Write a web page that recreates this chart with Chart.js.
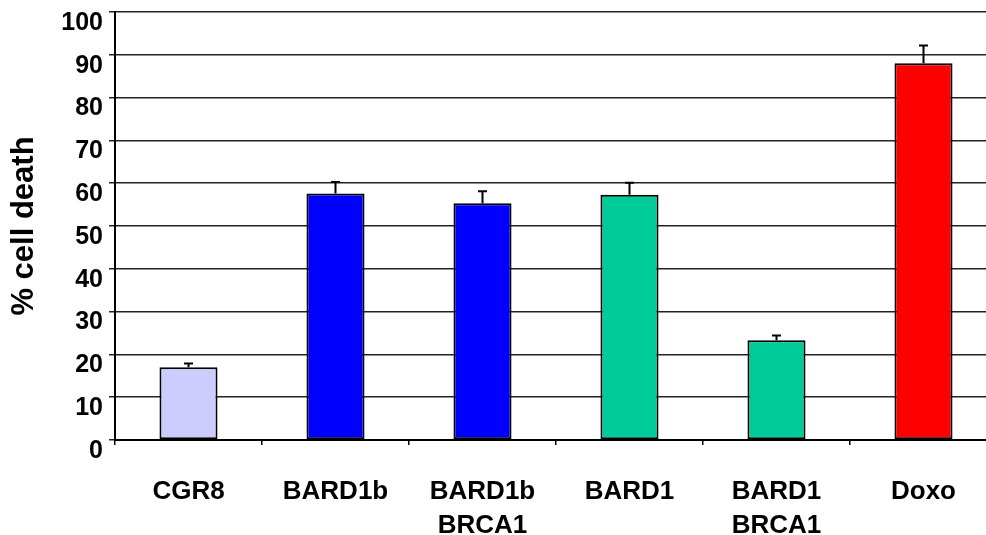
<!DOCTYPE html>
<html>
<head>
<meta charset="utf-8">
<script src="https://cdn.jsdelivr.net/npm/chart.js@4/dist/chart.umd.min.js"></script>
<style>
  html, body { margin: 0; padding: 0; background: #fff; overflow: hidden; }
  canvas { display: block; }
</style>
</head>
<body>
<canvas id="c" width="1000" height="535"></canvas>
<script>
const categories = ['CGR8', 'BARD1b', ['BARD1b', 'BRCA1'], 'BARD1', ['BARD1', 'BRCA1'], 'Doxo'];
const values = [17.0, 57.6, 55.3, 57.3, 23.3, 88.0];
const errors = [0.9, 2.7, 2.8, 2.8, 1.1, 4.2];
const barColors = ['#CCCCFF', '#0000FF', '#0000FF', '#00CC99', '#00CC99', '#FF0000'];
const yTicks = [0, 10, 20, 30, 40, 50, 60, 70, 80, 90, 100];
const yTitle = '% cell death';

const FONT = "'Liberation Sans', Arial, Helvetica, sans-serif";

const errorBars = {
  id: 'errorBars',
  afterDatasetsDraw(chart) {
    const ctx = chart.ctx;
    const meta = chart.getDatasetMeta(0);
    const y = chart.scales.y;
    ctx.save();
    ctx.strokeStyle = '#000';
    ctx.lineWidth = 2;
    meta.data.forEach((bar, i) => {
      const top = y.getPixelForValue(values[i]);
      const hi = y.getPixelForValue(values[i] + errors[i]);
      ctx.beginPath();
      ctx.moveTo(bar.x, top);
      ctx.lineTo(bar.x, hi);
      ctx.moveTo(bar.x - 4.5, hi);
      ctx.lineTo(bar.x + 4.5, hi);
      ctx.stroke();
    });
    ctx.restore();
  }
};

new Chart(document.getElementById('c'), {
  type: 'bar',
  data: {
    labels: categories,
    datasets: [{
      data: values,
      backgroundColor: barColors,
      borderColor: '#000',
      borderWidth: 2,
      borderSkipped: false,
      categoryPercentage: 1.0,
      barPercentage: 0.395
    }]
  },
  options: {
    responsive: false,
    animation: false,
    devicePixelRatio: 1,
    layout: { padding: { top: 12, right: 3, left: 0, bottom: 0 } },
    plugins: {
      legend: { display: false },
      tooltip: { enabled: false }
    },
    scales: {
      x: {
        offset: true,
        grid: {
          offset: true,
          drawOnChartArea: false,
          drawTicks: true,
          tickLength: 5,
          color: '#000',
          lineWidth: 1.5
        },
        border: { display: true, color: '#000', width: 2 },
        ticks: {
          color: '#000',
          padding: 30,
          maxRotation: 0,
          autoSkip: false,
          font: { family: FONT, size: 26, weight: 'bold', lineHeight: 1.3 }
        },
        afterFit(scale) {
          scale.height = 95;
          scale.paddingLeft = 0;
          scale.paddingRight = 0;
        }
      },
      y: {
        min: 0,
        max: 100,
        afterBuildTicks(scale) { scale.ticks = yTicks.map(v => ({ value: v })); },
        grid: {
          color: '#222',
          lineWidth: 1.5,
          drawTicks: true,
          tickLength: 6
        },
        border: { display: true, color: '#000', width: 2 },
        ticks: {
          color: '#000',
          padding: 6,
          labelOffset: 11,
          font: { family: FONT, size: 25, weight: 'bold' }
        },
        title: {
          display: true,
          text: yTitle,
          color: '#000',
          padding: { top: 6, bottom: 0 },
          font: { family: FONT, size: 31, weight: 'bold', lineHeight: 1.2 }
        },
        afterFit(scale) {
          scale.width = 115;
          scale.paddingTop = 0;
          scale.paddingBottom = 0;
        }
      }
    }
  },
  plugins: [errorBars]
});
</script>
</body>
</html>
